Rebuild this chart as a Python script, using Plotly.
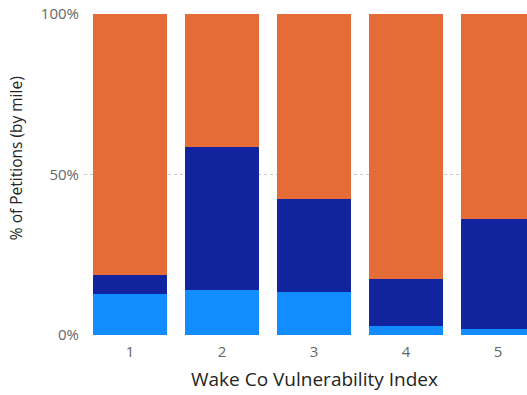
import plotly.graph_objects as go

categories = ["1", "2", "3", "4", "5"]
light_blue = [0.128, 0.140, 0.135, 0.028, 0.019]
dark_blue = [0.059, 0.445, 0.289, 0.145, 0.343]
orange = [1 - a - b for a, b in zip(light_blue, dark_blue)]
x_vals = [1, 2, 3, 4, 5]

fig = go.Figure()
for name, vals, col in [("Light", light_blue, "#118DFF"),
                        ("Dark", dark_blue, "#12239E"),
                        ("Orange", orange, "#E66C37")]:
    fig.add_trace(go.Bar(x=x_vals, y=vals, name=name, marker_color=col,
                         marker_line_width=0))

fig.update_layout(
    barmode="stack", bargap=0.2,
    width=527, height=395,
    margin=dict(l=84, r=0, t=14, b=60),
    plot_bgcolor="white", paper_bgcolor="white",
    showlegend=False,
    font=dict(family="Open Sans, sans-serif"),
)
fig.update_xaxes(
    range=[0.5, 5.315], tickvals=x_vals, ticktext=categories,
    showgrid=False, zeroline=False, showline=False, automargin=False,
    tickfont=dict(size=15, color="#666666"),
    ticklabelstandoff=6,
)
fig.update_yaxes(
    range=[0, 1], tickvals=[0, 0.5, 1], ticktext=["0%", "50%", "100%"],
    showgrid=True, gridcolor="#C8C8C8", griddash="dot", gridwidth=1,
    zeroline=False, showline=False, automargin=False,
    tickfont=dict(size=15, color="#666666"),
    ticklabelstandoff=4,
)
fig.add_annotation(text="Wake Co Vulnerability Index", xref="x", x=3.0,
                   yref="paper", y=0, yanchor="middle", yshift=-44,
                   showarrow=False, font=dict(size=19, color="#252423"))
fig.add_annotation(text="% of Petitions (by mile)", xref="paper", x=0,
                   xanchor="center", xshift=-68, yref="paper", y=0.551,
                   yanchor="middle", textangle=-90,
                   showarrow=False, font=dict(size=15.5, color="#252423"))

fig.write_html("out.html", post_script="document.body.style.margin='0px';",
               config={"displayModeBar": False})
